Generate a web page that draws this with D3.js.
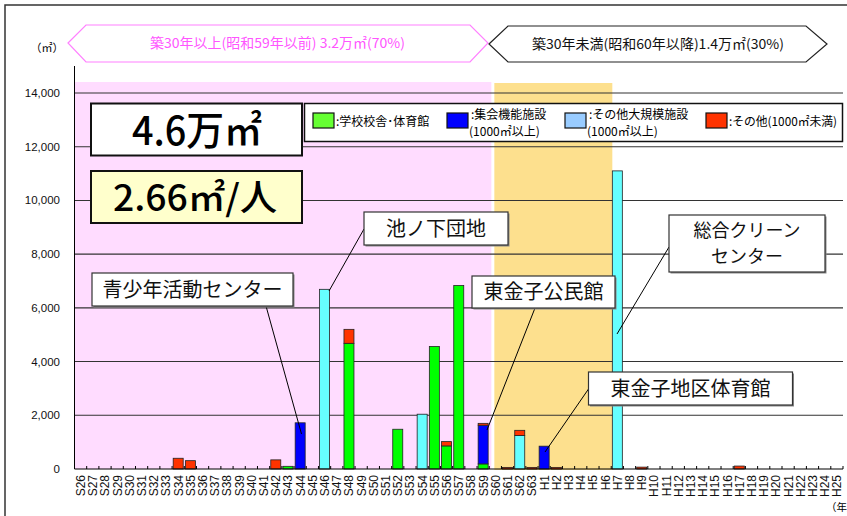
<!DOCTYPE html>
<html>
<head>
<meta charset="utf-8">
<script src="https://cdn.jsdelivr.net/npm/d3@7/dist/d3.min.js"></script>
<style>
  body { margin: 0; background: #fff; }
  svg { display: block; }
  text { font-family: "Noto Sans CJK JP", "Noto Sans", sans-serif; }
  .num { font-family: "Liberation Sans", Arial, sans-serif; }
</style>
</head>
<body>
<svg width="847" height="516"></svg>
<script>
// fiscal years (Showa 26 .. Heisei 25)
var categories = ["S26","S27","S28","S29","S30","S31","S32","S33","S34","S35",
  "S36","S37","S38","S39","S40","S41","S42","S43","S44","S45",
  "S46","S47","S48","S49","S50","S51","S52","S53","S54","S55",
  "S56","S57","S58","S59","S60","S61","S62","S63",
  "H1","H2","H3","H4","H5","H6","H7","H8","H9","H10",
  "H11","H12","H13","H14","H15","H16","H17","H18","H19","H20",
  "H21","H22","H23","H24","H25"];

// floor area (m2) per year and type, aligned with categories
var school = [0,0,0,0,0,0,0,0,0,0, 0,0,0,0,0,0,0,100,0,0, 0,0,4680,0,0,0,1480,0,0,4560,
  860,6830,0,190,0,0,0,0, 0,0,0,0,0,0,0,0,0,0, 0,0,0,0,0,0,0,0,0,0, 0,0,0,0,0];
var assembly = [0,0,0,0,0,0,0,0,0,0, 0,0,0,0,0,0,0,0,1720,0, 0,0,0,0,0,0,0,0,0,0,
  0,0,0,1440,0,0,0,0, 850,0,0,0,0,0,0,0,0,0, 0,0,0,0,0,0,0,0,0,0, 0,0,0,0,0];
var otherLarge = [0,0,0,0,0,0,0,0,0,0, 0,0,0,0,0,0,0,0,0,0, 6690,0,0,0,0,0,0,0,2040,0,
  0,0,0,0,0,0,1250,0, 0,0,0,0,0,0,11100,0,0,0, 0,0,0,0,0,0,0,0,0,0, 0,0,0,0,0];
var otherSmall = [0,0,0,0,0,0,0,0,400,310, 0,0,0,0,0,0,340,0,0,0, 0,0,520,0,0,0,0,0,0,0,
  160,0,0,70,0,60,190,60, 0,60,0,0,0,0,0,0,70,0, 0,0,0,0,0,0,110,0,0,0, 0,0,0,0,0];

var yTicks = [0,2000,4000,6000,8000,10000,12000,14000];

var seriesNames = ["学校校舎･体育館", "集会機能施設", "その他大規模施設", "その他(1000㎡未満)"];
var seriesColors = ["#00ff00", "#0000ff", "#66ffff", "#ff3300"];
var legendColors = ["#66ff33", "#0000ff", "#99ccff", "#ff3300"];

var svg = d3.select("svg");

var x = d3.scaleBand()
  .domain(categories)
  .range([74.5, 843])
  .paddingInner(0.18)
  .paddingOuter(0.09);
var step = x.step();
var y = d3.scaleLinear().domain([0, 14000]).range([469, 93]);

// outer frame
svg.append("rect")
  .attr("x", 5).attr("y", 5).attr("width", 900).attr("height", 600)
  .attr("fill", "none").attr("stroke", "#333").attr("stroke-width", 1.5);

// period backgrounds
var bgLeft = x("S26") - x.paddingOuter() * step;
svg.append("rect")
  .attr("x", bgLeft).attr("y", 82)
  .attr("width", x("S59") + step - bgLeft + 1).attr("height", y(0) - 82)
  .attr("fill", "#ffdcff");
svg.append("rect")
  .attr("x", x("S60") + 4).attr("y", 83)
  .attr("width", x("H7") - x("S60") - 4).attr("height", y(0) - 82)
  .attr("fill", "#fde08e");

// gridlines
svg.append("g")
  .selectAll("line")
  .data(yTicks.slice(1))
  .enter()
  .append("line")
    .attr("x1", 74.5).attr("x2", 843)
    .attr("y1", function(d) { return y(d); })
    .attr("y2", function(d) { return y(d); })
    .attr("stroke", "#333").attr("stroke-width", 1.1);

// stacked bars
var rows = categories.map(function(c, i) {
  return { cat: c, school: school[i], assembly: assembly[i], otherLarge: otherLarge[i], otherSmall: otherSmall[i] };
});
var keys = ["school", "assembly", "otherLarge", "otherSmall"];
var stacked = d3.stack().keys(keys)(rows);

svg.append("g")
  .selectAll("g")
  .data(stacked)
  .enter()
  .append("g")
    .attr("fill", function(d, i) { return seriesColors[i]; })
  .selectAll("rect")
  .data(function(d) { return d.filter(function(p) { return p[1] - p[0] > 0; }); })
  .enter()
  .append("rect")
    .attr("x", function(d) { return x(d.data.cat); })
    .attr("y", function(d) { return y(d[1]); })
    .attr("width", x.bandwidth())
    .attr("height", function(d) { return y(d[0]) - y(d[1]); })
    .attr("stroke", "#222").attr("stroke-width", 0.8);

// y axis
svg.append("line")
  .attr("x1", 74.5).attr("x2", 74.5).attr("y1", 66).attr("y2", y(0))
  .attr("stroke", "#000").attr("stroke-width", 1);
svg.append("g")
  .selectAll("text")
  .data(yTicks)
  .enter()
  .append("text")
    .attr("class", "num")
    .attr("x", 60)
    .attr("y", function(d) { return y(d) + 4; })
    .attr("text-anchor", "end")
    .attr("font-size", 11.5)
    .attr("fill", "#111")
    .text(function(d) { return d3.format(",")(d); });

svg.append("text")
  .attr("x", 47).attr("y", 52)
  .attr("text-anchor", "middle").attr("font-size", 11)
  .text("（㎡）");

// x axis
svg.append("line")
  .attr("x1", 74.5).attr("x2", 843).attr("y1", y(0)).attr("y2", y(0))
  .attr("stroke", "#000").attr("stroke-width", 1.2);
svg.append("g")
  .selectAll("line")
  .data(categories)
  .enter()
  .append("line")
    .attr("x1", function(d) { return x(d) - x.paddingInner() * step / 2 + step; })
    .attr("x2", function(d) { return x(d) - x.paddingInner() * step / 2 + step; })
    .attr("y1", y(0)).attr("y2", y(0) - 3)
    .attr("stroke", "#000");
svg.append("g")
  .selectAll("text")
  .data(categories)
  .enter()
  .append("text")
    .attr("class", "num")
    .attr("transform", function(d) {
      return "translate(" + (x(d) + x.bandwidth() / 2 + 4.5) + ",475) rotate(-90)";
    })
    .attr("text-anchor", "end")
    .attr("font-size", 12)
    .attr("fill", "#111")
    .text(function(d) { return d; });

svg.append("text")
  .attr("x", 826).attr("y", 511).attr("font-size", 10.5)
  .text("（年度）");

// header arrows
svg.append("polygon")
  .attr("points", "68,43 86,25 470,25 488,43 470,62 86,62")
  .attr("fill", "#fff").attr("stroke", "#ff80ff").attr("stroke-width", 1.2);
svg.append("text")
  .attr("x", 150).attr("y", 48)
  .attr("font-size", 13.5).attr("fill", "#ff55ff")
  .attr("textLength", 255).attr("lengthAdjust", "spacingAndGlyphs")
  .text("築30年以上(昭和59年以前) 3.2万㎡(70%)");
svg.append("polygon")
  .attr("points", "489,44 508,26 806,26 827,44 806,62 508,62")
  .attr("fill", "#fff").attr("stroke", "#222").attr("stroke-width", 1.2);
svg.append("text")
  .attr("x", 532).attr("y", 49)
  .attr("font-size", 13.5).attr("fill", "#111")
  .attr("textLength", 252).attr("lengthAdjust", "spacingAndGlyphs")
  .text("築30年未満(昭和60年以降)1.4万㎡(30%)");

// summary boxes
svg.append("rect")
  .attr("x", 91).attr("y", 103.5).attr("width", 211).attr("height", 52)
  .attr("fill", "#fff").attr("stroke", "#111").attr("stroke-width", 2);
svg.append("text")
  .attr("x", 132).attr("y", 145)
  .attr("font-size", 40).attr("font-weight", 500)
  .attr("textLength", 130).attr("lengthAdjust", "spacingAndGlyphs")
  .text("4.6万㎡");
svg.append("rect")
  .attr("x", 91).attr("y", 171).attr("width", 211).attr("height", 52)
  .attr("fill", "#ffffcc").attr("stroke", "#111").attr("stroke-width", 2);
svg.append("text")
  .attr("x", 113).attr("y", 211)
  .attr("font-size", 36).attr("font-weight", 500)
  .attr("textLength", 164).attr("lengthAdjust", "spacingAndGlyphs")
  .text("2.66㎡/人");

// legend
var legend = svg.append("g");
legend.append("rect")
  .attr("x", 304.5).attr("y", 103.5).attr("width", 538).attr("height", 38)
  .attr("fill", "#fff").attr("stroke", "#111").attr("stroke-width", 1.5);
var legendX = [313, 447, 565, 706];
var legendSub = ["", "(1000㎡以上)", "(1000㎡以上)", ""];
seriesNames.forEach(function(name, i) {
  legend.append("rect")
    .attr("x", legendX[i]).attr("y", 113).attr("width", 21).attr("height", 15)
    .attr("fill", legendColors[i]).attr("stroke", "#111").attr("stroke-width", 1.2);
  if (legendSub[i]) {
    legend.append("text")
      .attr("x", legendX[i] + 24).attr("y", 119).attr("font-size", 12)
      .text(":" + name);
    legend.append("text")
      .attr("x", legendX[i] + 22).attr("y", 135.5).attr("font-size", 12)
      .text(legendSub[i]);
  } else {
    var t = legend.append("text")
      .attr("x", legendX[i] + 23).attr("y", 126).attr("font-size", 12)
      .text(":" + name);
    if (i === 3) t.attr("textLength", 108).attr("lengthAdjust", "spacingAndGlyphs");
  }
});

// callouts
var callouts = [
  { lines: ["池ノ下団地"], box: [364, 212, 144, 33], from: [364, 229], to: [329, 291] },
  { lines: ["青少年活動センター"], box: [92, 273, 201, 33], from: [266, 306], to: [301.5, 434] },
  { lines: ["東金子公民館"], box: [472, 276, 143, 32], from: [535, 308], to: [487, 430] },
  { lines: ["総合クリーン", "センター"], box: [669, 215, 156, 57], from: [669, 247], to: [617, 334] },
  { lines: ["東金子地区体育館"], box: [588.5, 372, 204, 33], from: [588.5, 389], to: [545, 452] }
];
callouts.forEach(function(c) {
  var b = c.box;
  svg.append("line")
    .attr("x1", c.from[0]).attr("y1", c.from[1])
    .attr("x2", c.to[0]).attr("y2", c.to[1])
    .attr("stroke", "#000").attr("stroke-width", 1);
  svg.append("rect")
    .attr("x", b[0] + 1.5).attr("y", b[1] + 1.5).attr("width", b[2]).attr("height", b[3])
    .attr("fill", "#888");
  svg.append("rect")
    .attr("x", b[0]).attr("y", b[1]).attr("width", b[2]).attr("height", b[3])
    .attr("fill", "#fff").attr("stroke", "#333").attr("stroke-width", 1.2);
  var lh = 26;
  var fs = c.lines.length > 1 ? 18 : 20;
  var y0 = b[1] + b[3] / 2 - (c.lines.length - 1) * lh / 2 + fs * 0.35;
  c.lines.forEach(function(t, j) {
    svg.append("text")
      .attr("x", b[0] + b[2] / 2).attr("y", y0 + j * lh)
      .attr("text-anchor", "middle").attr("font-size", fs).attr("fill", "#111")
      .text(t);
  });
});
</script>
</body>
</html>
